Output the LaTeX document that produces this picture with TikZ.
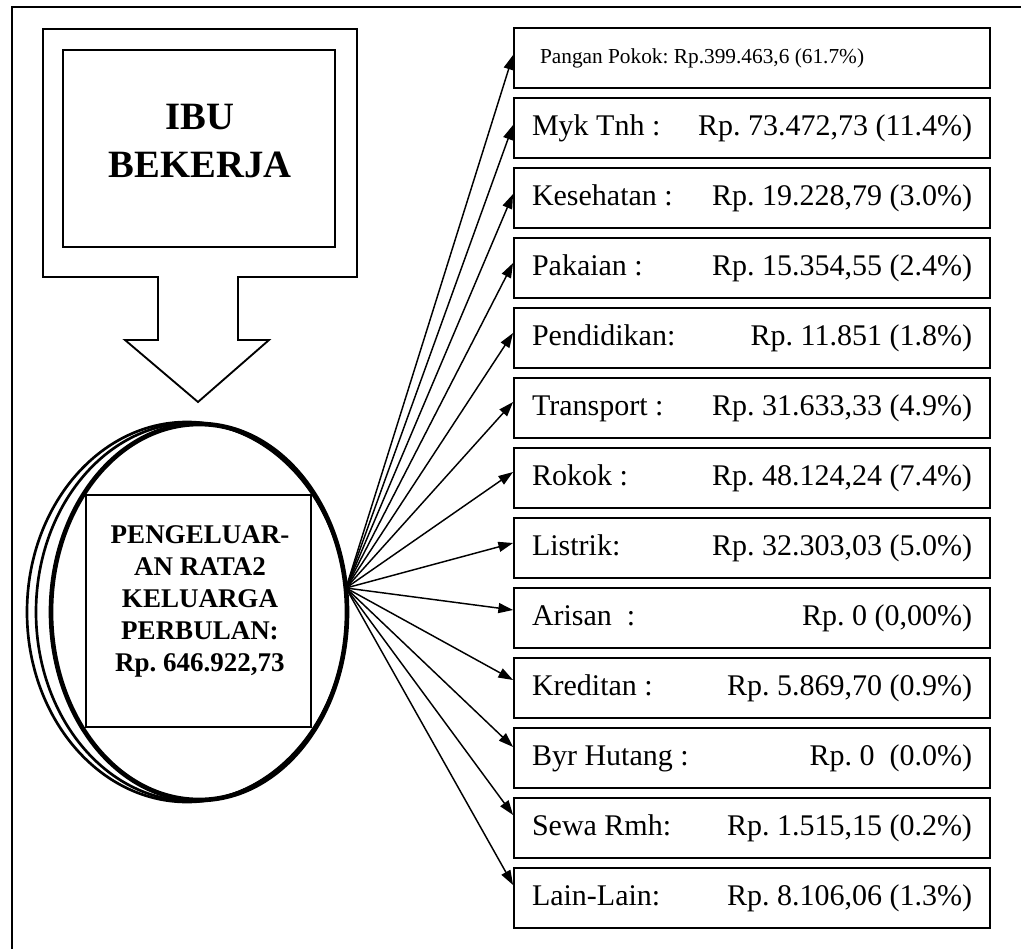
\documentclass[tikz,border=0pt]{standalone}
\usepackage{fontspec}
\setmainfont{Liberation Serif}
\usetikzlibrary{arrows.meta,shapes.geometric}
\frenchspacing

\begin{document}
\begin{tikzpicture}[x=0.75pt,y=-0.75pt,
  frame/.style={line width=1.5pt},
  rowbox/.style={draw, line width=1.4pt, minimum width=357pt, minimum height=45pt,
    inner sep=0pt, font=\fontsize{22.5}{27}\selectfont},
  oval/.style={draw, ellipse, inner sep=0pt},
  feed/.style={line width=1.1pt, -{Triangle[length=11pt,width=7.5pt]}},
]
\useasboundingbox (0,0) rectangle (1021,949);

% page frame (top and left rules only)
\draw[frame] (12,949) -- (12,7) -- (1021,7);

% block arrow pointing down from the "IBU BEKERJA" box
\draw[line width=1.4pt, line join=miter]
  (43,29) -- (357,29) -- (357,277) -- (238,277) -- (238,340) -- (269,340)
  -- (198,402) -- (125,340) -- (158,340) -- (158,277) -- (43,277) -- cycle;
\node[draw, line width=1.4pt, minimum width=204pt, minimum height=147.75pt] (ibu) at (199,148.5) {};
\node[font=\bfseries\fontsize{29}{36}\selectfont, align=center] (ibutext) at (200,141) {IBU\\BEKERJA};

% overlapping ovals around the total box
\node[oval, line width=2pt, minimum width=240pt, minimum height=285pt] (oval1) at (187,612) {};
\node[oval, line width=2pt, minimum width=233.25pt, minimum height=283.5pt] (oval2) at (191.5,612) {};
\node[oval, line width=3.5pt, minimum width=222pt, minimum height=282pt] (oval3) at (199,612) {};

\node[draw, fill=white, line width=1.2pt, minimum width=168.75pt, minimum height=174pt] (total) at (198.5,611) {};
\node[font=\bfseries\fontsize{20.25}{24}\selectfont, align=center] (totaltext) at (200,601)
  {PENGELUAR-\\AN RATA2\\KELUARGA\\PERBULAN:\\Rp. 646.922,73};

\coordinate (hub) at (346,588);

% expense items
\node[rowbox, font=\fontsize{16}{19}\selectfont] (b1) at (752,58)
  {\makebox[330pt][l]{\hspace{6pt}Pangan Pokok: Rp.399.463,6 (61.7\%)}};
\draw[feed] (hub) -- ([yshift=2.25pt]b1.west);

\foreach \i/\lab/\val/\off in {
  2/{Myk Tnh :}/{Rp. 73.472,73 (11.4\%)}/3,
  3/{Kesehatan :}/{Rp. 19.228,79 (3.0\%)}/4,
  4/{Pakaian :}/{Rp. 15.354,55 (2.4\%)}/5,
  5/{Pendidikan:}/{Rp. 11.851 (1.8\%)}/5,
  6/{Transport :}/{Rp. 31.633,33 (4.9\%)}/6,
  7/{Rokok :}/{Rp. 48.124,24 (7.4\%)}/6,
  8/{Listrik:}/{Rp. 32.303,03 (5.0\%)}/5,
  9/{Arisan\ \ :}/{Rp. 0 (0,00\%)}/8,
  10/{Kreditan :}/{Rp. 5.869,70 (0.9\%)}/8,
  11/{Byr Hutang :}/{Rp. 0\ \ (0.0\%)}/11,
  12/{Sewa Rmh:}/{Rp. 1.515,15 (0.2\%)}/13,
  13/{Lain-Lain:}/{Rp. 8.106,06 (1.3\%)}/13}
{
  \node[rowbox] (b\i) at (752,{58+70*(\i-1)}) {\makebox[330pt]{\lab\hfill\val}};
  \draw[feed] (hub) -- ([yshift=\off*0.75pt]b\i.west);
}
\end{tikzpicture}
\end{document}
